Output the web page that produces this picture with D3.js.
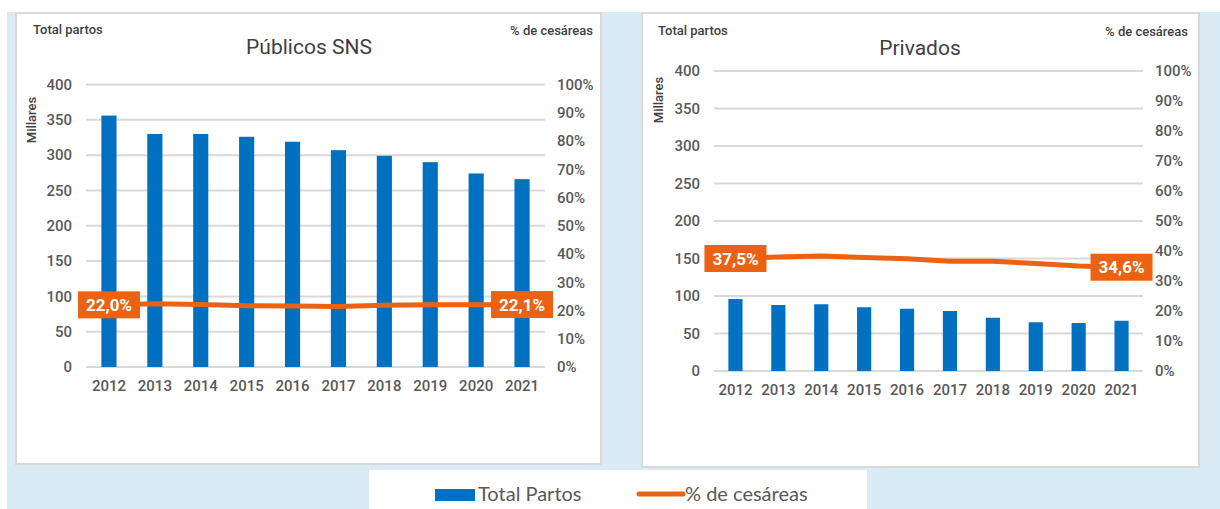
<!DOCTYPE html>
<html>
<head>
<meta charset="utf-8">
<script src="https://cdn.jsdelivr.net/npm/d3@7"></script>
<style>
  body { margin: 0; background: #fff; }
  svg text { font-family: Roboto, "Noto Sans", sans-serif; }
</style>
</head>
<body>
<svg id="chart" width="1220" height="509"></svg>
<script>
// data (thousands of births, % caesarean)
var years = ["2012", "2013", "2014", "2015", "2016", "2017", "2018", "2019", "2020", "2021"];
var publicTotal = [356, 330, 330, 326, 319, 307, 299, 290, 274, 266];
var publicCes = [22.0, 22.4, 22.1, 21.7, 21.6, 21.4, 21.9, 22.0, 22.0, 22.1];
var privateTotal = [96, 88, 89, 85, 83, 80, 71, 65, 64, 67];
var privateCes = [37.5, 38.0, 38.3, 37.8, 37.4, 36.6, 36.6, 35.8, 35.0, 34.6];
var leftTicks = [0, 50, 100, 150, 200, 250, 300, 350, 400];
var rightTicks = [0, 10, 20, 30, 40, 50, 60, 70, 80, 90, 100];

var blue = "#0070c0", orange = "#ea6212", grid = "#d9d9d9";
var es = d3.formatLocale({ decimal: ",", thousands: ".", grouping: [3], currency: ["", "€"] });
var fmt = es.format(".1f");

var svg = d3.select("#chart");

// backgrounds
svg.append("rect").attr("x", 7).attr("y", 12).attr("width", 1213).attr("height", 497).attr("fill", "#dbebf6");
svg.append("rect").attr("x", 16).attr("y", 13).attr("width", 585).attr("height", 451)
  .attr("fill", "#fff").attr("stroke", grid).attr("stroke-width", 2);
svg.append("rect").attr("x", 642).attr("y", 13).attr("width", 557).attr("height", 454)
  .attr("fill", "#fff").attr("stroke", grid).attr("stroke-width", 2);
svg.append("rect").attr("x", 369).attr("y", 470).attr("width", 498).attr("height", 39).attr("fill", "#fff");

function drawPanel(p) {
  var g = svg.append("g");
  var x = d3.scaleBand().domain(years).range([p.x0, p.x1]).paddingInner(0.67).paddingOuter(0.335);
  var y = d3.scaleLinear().domain([0, 400]).range([p.y0, p.y1]);
  var y2 = d3.scaleLinear().domain([0, 100]).range([p.y0, p.y1]);

  // gridlines
  g.selectAll(".grid").data(leftTicks).enter().append("line")
    .attr("x1", p.x0).attr("x2", p.x1)
    .attr("y1", function(d) { return y(d); }).attr("y2", function(d) { return y(d); })
    .attr("stroke", grid).attr("stroke-width", 2);

  // left axis
  var la = g.append("g").attr("transform", "translate(" + p.x0 + ",0)")
    .call(d3.axisLeft(y).tickValues(leftTicks).tickSize(0).tickPadding(14));
  la.select(".domain").remove();
  la.selectAll("text").attr("font-size", 15).attr("fill", "#595959").attr("font-weight", 500)
    .style("font-family", "Roboto, sans-serif");

  // right axis
  var ra = g.append("g").attr("transform", "translate(" + p.x1 + ",0)")
    .call(d3.axisRight(y2).tickValues(rightTicks).tickSize(0).tickPadding(12)
      .tickFormat(function(d) { return d + "%"; }));
  ra.select(".domain").remove();
  ra.selectAll("text").attr("font-size", 15).attr("fill", "#595959").attr("font-weight", 500)
    .style("font-family", "Roboto, sans-serif");

  // x axis
  var xa = g.append("g").attr("transform", "translate(0," + p.y0 + ")")
    .call(d3.axisBottom(x).tickSize(0).tickPadding(13));
  xa.select(".domain").remove();
  xa.selectAll("text").attr("font-size", 15).attr("fill", "#595959").attr("font-weight", 500)
    .style("font-family", "Roboto, sans-serif");

  // bars
  g.selectAll(".bar").data(p.totals).enter().append("rect")
    .attr("x", function(d, i) { return x(years[i]); })
    .attr("width", x.bandwidth())
    .attr("y", function(d) { return y(d); })
    .attr("height", function(d) { return p.y0 - y(d); })
    .attr("fill", blue);

  // line
  var line = d3.line()
    .x(function(d, i) { return x(years[i]) + x.bandwidth() / 2; })
    .y(function(d) { return y2(d); });
  g.append("path").datum(p.ces).attr("d", line)
    .attr("fill", "none").attr("stroke", orange).attr("stroke-width", 5);

  // end labels
  [0, years.length - 1].forEach(function(i) {
    var cx = x(years[i]) + x.bandwidth() / 2, cy = y2(p.ces[i]);
    g.append("rect").attr("x", cx - 31).attr("y", cy - 13.5).attr("width", 62).attr("height", 27)
      .attr("fill", orange);
    g.append("text").attr("x", cx).attr("y", cy).attr("dy", "0.36em")
      .attr("text-anchor", "middle").attr("fill", "#fff").attr("font-size", 17).attr("font-weight", "bold")
      .text(fmt(p.ces[i]) + "%");
  });

  // titles
  g.append("text").attr("x", p.tl).attr("y", p.ty).attr("font-size", 13).attr("font-weight", 500)
    .attr("fill", "#404040").text("Total partos");
  g.append("text").attr("x", p.tr).attr("y", p.ty + 1).attr("text-anchor", "end").attr("font-size", 13)
    .attr("font-weight", 500).attr("fill", "#404040").text("% de cesáreas");
  g.append("text").attr("x", p.cx).attr("y", p.ty + 20).attr("text-anchor", "middle").attr("font-size", 21)
    .attr("fill", "#404040").text(p.title);
  g.append("text").attr("transform", "translate(" + p.mx + "," + p.my + ") rotate(-90)")
    .attr("text-anchor", "middle").attr("font-size", 13).attr("font-weight", 500)
    .attr("fill", "#404040").text("Millares");
}

drawPanel({ title: "Públicos SNS", totals: publicTotal, ces: publicCes,
  x0: 86, x1: 545, y0: 367, y1: 84.5, tl: 33, tr: 593, ty: 34, cx: 309, mx: 36, my: 120 });
drawPanel({ title: "Privados", totals: privateTotal, ces: privateCes,
  x0: 714, x1: 1143, y0: 371, y1: 71, tl: 658, tr: 1188, ty: 35, cx: 920, mx: 663, my: 100 });

// legend
var lg = svg.append("g");
lg.append("rect").attr("x", 435).attr("y", 489).attr("width", 40).attr("height", 12).attr("fill", blue);
lg.append("text").attr("x", 478).attr("y", 501).attr("font-size", 20).attr("fill", "#595959")
  .style("font-family", "Lato, sans-serif").text("Total Partos");
lg.append("line").attr("x1", 639).attr("x2", 683).attr("y1", 494).attr("y2", 494)
  .attr("stroke", orange).attr("stroke-width", 5).attr("stroke-linecap", "round");
lg.append("text").attr("x", 685).attr("y", 501).attr("font-size", 20).attr("fill", "#595959")
  .style("font-family", "Lato, sans-serif").text("% de cesáreas");
</script>
</body>
</html>
